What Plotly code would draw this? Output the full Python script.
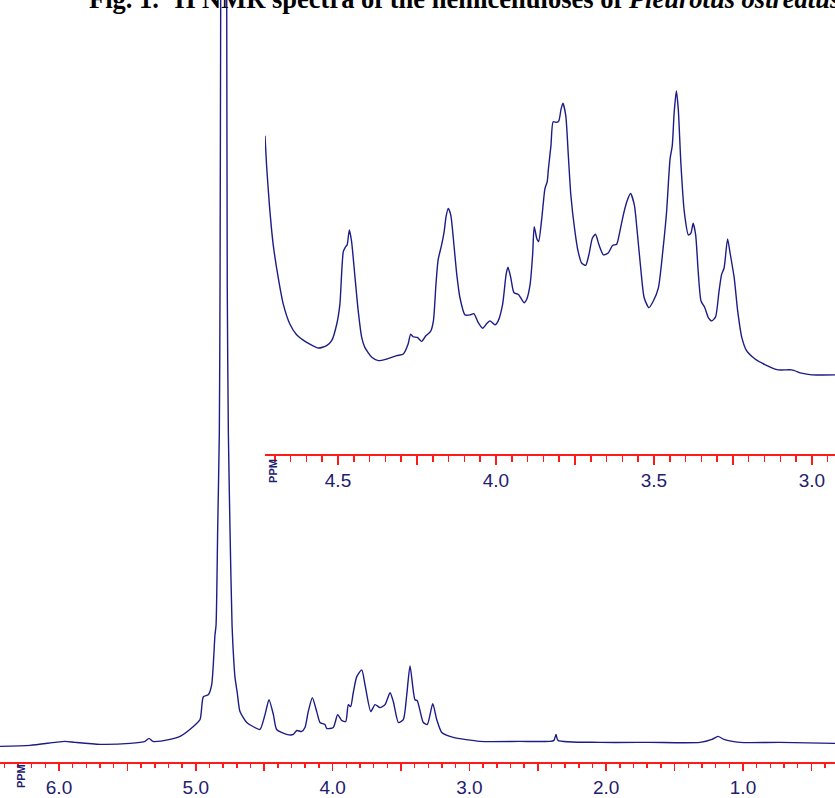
import plotly.graph_objects as go

# ---------------- data: full 1H spectrum (ppm, intensity a.u.) ----------------
main_ppm = [6.431, 6.212, 6.029, 5.956, 5.883, 5.700, 5.481, 5.371, 5.342, 5.313,
            5.189, 5.115, 5.018, 4.969, 4.945, 4.909, 4.884, 4.860, 4.852, 4.840,
            4.828, 4.823, 4.818, 4.796, 4.774, 4.770, 4.762, 4.750, 4.735, 4.721,
            4.713, 4.697, 4.677, 4.628, 4.582, 4.531, 4.494, 4.465, 4.433, 4.409,
            4.336, 4.287, 4.262, 4.226, 4.202, 4.178, 4.148, 4.116, 4.092, 4.056,
            4.043, 3.995, 3.963, 3.933, 3.904, 3.885, 3.868, 3.849, 3.824, 3.787,
            3.763, 3.721, 3.690, 3.653, 3.617, 3.580, 3.556, 3.519, 3.483, 3.458,
            3.434, 3.398, 3.381, 3.337, 3.308, 3.268, 3.239, 3.202, 3.118, 2.923,
            2.630, 2.411, 2.382, 2.367, 2.353, 2.045, 1.680, 1.314, 1.227, 1.183,
            1.139, 1.022, 0.730, 0.327]
main_int = [16, 17, 20, 21, 20, 18, 19, 21, 24, 21,
            23, 26, 36, 43, 66, 68, 78, 128, 138, 235,
            332, 477, 768, 2100, 768, 477, 332, 235, 138, 99,
            85, 70, 51, 40, 36, 33, 48, 63, 48, 33,
            28, 28, 32, 31, 35, 51, 65, 51, 40, 38,
            34, 35, 48, 42, 41, 58, 56, 70, 86, 93,
            78, 51, 58, 55, 58, 70, 61, 40, 43, 68,
            97, 63, 62, 40, 38, 59, 43, 30, 25, 21,
            21, 21, 22, 28, 22, 20, 20, 20, 23, 26,
            23, 20, 20, 19]

# ---------------- data: expanded 3.0-4.7 ppm region ----------------
ins_ppm = [4.731, 4.726, 4.717, 4.705, 4.689, 4.673, 4.652, 4.631, 4.610, 4.589,
           4.562, 4.536, 4.520, 4.504, 4.494, 4.483, 4.475, 4.471, 4.464, 4.457,
           4.446, 4.436, 4.425, 4.415, 4.393, 4.372, 4.346, 4.314, 4.293, 4.278,
           4.270, 4.262, 4.249, 4.235, 4.222, 4.207, 4.198, 4.190, 4.183, 4.172,
           4.164, 4.158, 4.151, 4.143, 4.135, 4.124, 4.114, 4.098, 4.082, 4.070,
           4.056, 4.042, 4.029, 4.019, 4.003, 3.993, 3.979, 3.968, 3.962, 3.953,
           3.943, 3.929, 3.911, 3.903, 3.892, 3.884, 3.879, 3.871, 3.865, 3.855,
           3.845, 3.838, 3.834, 3.826, 3.819, 3.808, 3.801, 3.794, 3.788, 3.779,
           3.771, 3.763, 3.750, 3.740, 3.729, 3.716, 3.706, 3.695, 3.685, 3.674,
           3.660, 3.645, 3.631, 3.618, 3.608, 3.597, 3.586, 3.574, 3.562, 3.552,
           3.541, 3.531, 3.516, 3.502, 3.486, 3.471, 3.460, 3.449, 3.442, 3.436,
           3.429, 3.423, 3.415, 3.404, 3.391, 3.383, 3.376, 3.368, 3.360, 3.351,
           3.339, 3.328, 3.317, 3.305, 3.294, 3.286, 3.278, 3.267, 3.259, 3.246,
           3.235, 3.222, 3.207, 3.180, 3.149, 3.107, 3.064, 3.033, 3.001, 2.927]
ins_int = [320.3, 290.3, 250.3, 210.3, 177.0, 150.3, 130.3, 119.7, 114.3, 110.3,
           106.3, 108.7, 113.7, 130.3, 150.3, 203.7, 208.7, 210.3, 225.3, 213.7,
           177.0, 143.7, 117.0, 107.0, 97.0, 93.7, 95.3, 98.7, 100.3, 110.3,
           120.3, 117.7, 117.0, 113.0, 118.7, 123.0, 133.7, 170.3, 195.3, 210.3,
           223.7, 238.7, 247.0, 240.3, 217.0, 180.3, 157.0, 139.7, 139.7, 141.0,
           132.0, 126.3, 131.0, 133.7, 129.7, 133.7, 150.3, 180.3, 187.7, 177.0,
           162.0, 160.3, 152.0, 155.3, 170.3, 200.3, 228.7, 217.0, 213.7, 237.0,
           267.0, 273.7, 287.0, 310.3, 334.3, 333.7, 335.3, 347.0, 353.0, 340.3,
           300.3, 260.3, 223.7, 203.7, 192.0, 189.7, 200.3, 217.0, 221.0, 210.3,
           200.3, 202.0, 209.7, 211.0, 223.7, 240.3, 253.7, 262.0, 250.3, 220.3,
           183.7, 157.0, 147.0, 153.7, 167.0, 207.0, 243.7, 297.0, 310.3, 343.7,
           365.3, 347.0, 293.7, 243.7, 220.3, 222.0, 232.0, 220.3, 183.7, 153.7,
           147.0, 137.0, 133.7, 137.7, 163.7, 180.3, 187.0, 216.3, 202.0, 177.0,
           143.7, 117.0, 103.7, 95.3, 89.7, 84.3, 84.3, 81.0, 79.3, 79.3]

# ---------------- tick labels ----------------
main_tickvals = [6.0, 5.5, 5.0, 4.5, 4.0, 3.5, 3.0, 2.5, 2.0, 1.5, 1.0, 0.5]
main_ticktext = ["6.0", " ", "5.0", " ", "4.0", " ", "3.0", " ", "2.0", " ", "1.0", " "]
ins_tickvals = [4.75, 4.5, 4.25, 4.0, 3.75, 3.5, 3.25, 3.0]
ins_ticktext = [" ", "4.5", " ", "4.0", " ", "3.5", " ", "3.0"]

W, H = 835, 798
LINE = "#1c1c86"
LABEL = "#1f2070"
RED = "#ff1a1a"

fig = go.Figure()
fig.add_trace(go.Scatter(x=main_ppm, y=main_int, mode="lines",
                         line=dict(color=LINE, width=1.4, shape="spline", smoothing=0.6),
                         xaxis="x", yaxis="y", hoverinfo="skip", showlegend=False))
fig.add_trace(go.Scatter(x=ins_ppm, y=ins_int, mode="lines",
                         line=dict(color=LINE, width=1.4, shape="spline", smoothing=0.6),
                         xaxis="x2", yaxis="y2", hoverinfo="skip", showlegend=False))

tickfont = dict(family="Liberation Sans, Arial, sans-serif", size=19, color=LABEL)

fig.update_layout(
    width=W, height=H,
    margin=dict(l=0, r=0, t=0, b=0),
    paper_bgcolor="white", plot_bgcolor="rgba(0,0,0,0)",
    showlegend=False,
    xaxis=dict(domain=[0, 1], anchor="y", range=[6.4313, 0.3275],
               showline=True, linecolor=RED, linewidth=2,
               ticks="outside", tickcolor=RED, tickwidth=1.5, ticklen=7,
               tickmode="array", tickvals=main_tickvals, ticktext=main_ticktext,
               tickfont=tickfont, showgrid=False, zeroline=False,
               minor=dict(dtick=0.1, tick0=0, ticks="outside", ticklen=4,
                          tickcolor=RED, tickwidth=1.5, showgrid=False)),
    yaxis=dict(domain=[30 / H, 1], anchor="x", range=[0, 768], visible=False,
               showgrid=False, zeroline=False),
    xaxis2=dict(domain=[265 / W, 1], anchor="y2", range=[4.731, 2.927],
                showline=True, linecolor=RED, linewidth=2,
                ticks="outside", tickcolor=RED, tickwidth=1.5, ticklen=9,
                tickmode="array", tickvals=ins_tickvals, ticktext=ins_ticktext,
                tickfont=tickfont, showgrid=False, zeroline=False,
                minor=dict(dtick=0.05, tick0=0, ticks="outside", ticklen=6,
                           tickcolor=RED, tickwidth=1.5, showgrid=False)),
    yaxis2=dict(domain=[(H - 457) / H, 1], anchor="x2", range=[0, 457],
                visible=False, showgrid=False, zeroline=False),
)

fig.add_annotation(text="<b>Fig. 1. <sup>1</sup>H NMR spectra of the hemicelluloses of "
                        "<i>Pleurotus ostreatus</i></b>",
                   xref="paper", yref="paper", x=87 / W, y=1 - 16.5 / H,
                   xanchor="left", yanchor="bottom", showarrow=False,
                   font=dict(family="Liberation Serif, Times New Roman, serif",
                             size=26.5, color="black"))
for px, py in [(21, 782), (273, 474.5)]:
    fig.add_annotation(text="<b>PPM</b>", xref="paper", yref="paper",
                       x=px / W, y=1 - py / H, xanchor="center", yanchor="middle",
                       textangle=-90, showarrow=False,
                       font=dict(family="Liberation Sans, Arial, sans-serif",
                                 size=11, color=LABEL))

fig.write_html("out.html",
               config={"displayModeBar": False, "staticPlot": True},
               post_script="document.body.style.margin='0';"
                           "document.body.style.overflow='hidden';")
